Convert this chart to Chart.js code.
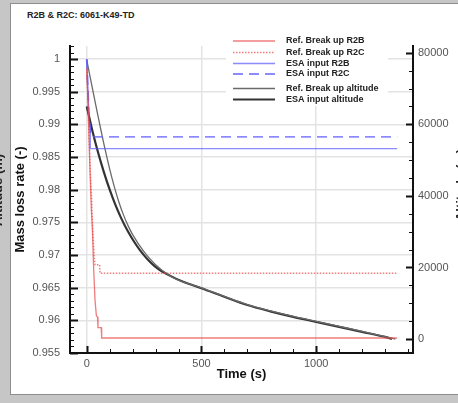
<!DOCTYPE html>
<html>
<head>
<meta charset="utf-8">
<script src="https://cdn.jsdelivr.net/npm/chart.js@4"></script>
<style>
  body { margin: 0; width: 458px; height: 403px; background: #c6c6c6; overflow: hidden; position: relative; }
  .panel { position: absolute; left: 10px; top: 3px; width: 448px; height: 390px; background: #fff;
           border-left: 1px solid #8d8d8d; border-top: 1px solid #8d8d8d; border-bottom: 1px solid #8d8d8d; }
  .title { position: absolute; left: 27px; top: 10px; font: bold 9px "Liberation Sans", Arial, sans-serif; color: #222; }
  canvas { position: absolute; left: 0; top: 0; }
</style>
</head>
<body>
<div class="panel"></div>
<div class="title">R2B &amp; R2C: 6061-K49-TD</div>
<canvas id="chart" width="458" height="403"></canvas>
<script>
// ---- data ----
const T_REF_R2B = [0, 5, 10, 15, 20, 25, 30, 36, 42, 47, 49, 63, 65, 1353];
const MLR_REF_R2B = [0.9985, 0.994, 0.988, 0.982, 0.977, 0.9735, 0.968, 0.9631, 0.9607, 0.9605, 0.9589, 0.9589, 0.9573, 0.9573];

const T_REF_R2C = [0, 5, 10, 15, 20, 24, 28, 32, 36, 56, 58, 1353];
const MLR_REF_R2C = [0.9985, 0.994, 0.988, 0.983, 0.9795, 0.976, 0.9725, 0.970, 0.9685, 0.9685, 0.9672, 0.9672];

const T_ESA_R2B = [0, 5, 10, 15, 15.5, 1353];
const MLR_ESA_R2B = [1.0, 0.9955, 0.991, 0.9895, 0.9863, 0.9863];

const T_ESA_R2C = [0, 5, 10, 18, 1353];
const MLR_ESA_R2C = [1.0, 0.9955, 0.991, 0.9881, 0.9881];

const T_REF_ALT = [0, 40, 80, 100, 120, 140, 160, 180, 200, 250, 300, 360, 420, 500, 600, 700, 800, 900, 1000, 1100, 1200, 1300, 1345];
const ALT_REF = [78000, 65200, 53000, 47500, 42600, 38300, 34700, 31700, 29200, 24350, 20750, 17750, 15950, 14300, 11900, 9650, 7900, 6350, 4950, 3550, 2150, 700, 0];

const T_ESA_ALT = [0, 25, 50, 75, 100, 125, 150, 181, 230, 297, 360, 420, 500, 600, 700, 800, 900, 1000, 1100, 1200, 1300, 1330];
const ALT_ESA = [65000, 58100, 52000, 46600, 41750, 37500, 33800, 29900, 25000, 20300, 17800, 16000, 14200, 11800, 9500, 7750, 6200, 4800, 3400, 2000, 600, 0];

const X_TICKS = [0, 500, 1000];
const LEFT_TICKS = [0.955, 0.96, 0.965, 0.97, 0.975, 0.98, 0.985, 0.99, 0.995, 1];
const RIGHT_TICKS = [0, 20000, 40000, 60000, 80000];

const FONT = '"Liberation Sans", Arial, sans-serif';

function pts(ts, vs) {
  return ts.map((t, i) => ({ x: t, y: vs[i] }));
}

const datasets = [
  { label: 'Ref. Break up R2B', data: pts(T_REF_R2B, MLR_REF_R2B), yAxisID: 'y',
    borderColor: 'rgba(232,70,70,0.7)', borderWidth: 1.3 },
  { label: 'Ref. Break up R2C', data: pts(T_REF_R2C, MLR_REF_R2C), yAxisID: 'y',
    borderColor: 'rgba(232,70,70,0.7)', borderWidth: 1.5, borderDash: [1.5, 1.5] },
  { label: 'ESA input R2B', data: pts(T_ESA_R2B, MLR_ESA_R2B), yAxisID: 'y',
    borderColor: 'rgba(90,90,255,0.7)', borderWidth: 1.3 },
  { label: 'ESA input R2C', data: pts(T_ESA_R2C, MLR_ESA_R2C), yAxisID: 'y',
    borderColor: 'rgba(90,90,255,0.7)', borderWidth: 1.8, borderDash: [10, 6] },
  { label: 'Ref. Break up altitude', data: pts(T_REF_ALT, ALT_REF), yAxisID: 'y2',
    borderColor: '#6a6a6a', borderWidth: 1.3, cubicInterpolationMode: 'monotone' },
  { label: 'ESA input altitude', data: pts(T_ESA_ALT, ALT_ESA), yAxisID: 'y2',
    borderColor: '#333', borderWidth: 2.2, cubicInterpolationMode: 'monotone' }
];

// inner minor/major ticks, Tecplot style
const innerTicks = {
  id: 'innerTicks',
  afterDraw(chart) {
    const { ctx, chartArea: a, scales: { x, y, y2 } } = chart;
    ctx.save();
    ctx.strokeStyle = '#111';
    for (let v = 0; v <= 1400; v += 100) {
      const px = Math.round(x.getPixelForValue(v)) + 0.5;
      const len = v % 500 === 0 ? 7 : 4;
      ctx.lineWidth = v % 500 === 0 ? 2 : 1;
      ctx.beginPath(); ctx.moveTo(px, a.bottom); ctx.lineTo(px, a.bottom - len); ctx.stroke();
    }
    for (let i = 955; i <= 1002; i++) {
      const py = Math.round(y.getPixelForValue(i / 1000)) + 0.5;
      const major = i % 5 === 0;
      ctx.lineWidth = major ? 2 : 1;
      ctx.beginPath(); ctx.moveTo(a.left, py); ctx.lineTo(a.left + (major ? 8 : 4), py); ctx.stroke();
    }
    for (let v = 0; v <= 80000; v += 5000) {
      const py = Math.round(y2.getPixelForValue(v)) + 0.5;
      const major = v % 20000 === 0;
      ctx.lineWidth = major ? 2 : 1;
      ctx.beginPath(); ctx.moveTo(a.right, py); ctx.lineTo(a.right - (major ? 7 : 4), py); ctx.stroke();
    }
    // altitude labels that stick out at both edges of the frame
    ctx.fillStyle = '#222';
    ctx.font = 'bold 13px ' + FONT;
    ctx.textAlign = 'center';
    ctx.textBaseline = 'middle';
    [[461, 185], [-2, 190]].forEach(([cx, cy]) => {
      ctx.save(); ctx.translate(cx, cy); ctx.rotate(-Math.PI / 2);
      ctx.fillText('Altitude (m)', 0, 0); ctx.restore();
    });
    ctx.restore();
  }
};

const boxLegend = {
  id: 'boxLegend',
  afterDatasetsDraw(chart) {
    const { ctx } = chart;
    const rows = [41, 52.5, 63.5, 74, 88.5, 99.5];
    ctx.save();
    ctx.fillStyle = '#fff';
    ctx.fillRect(226, 34, 162, 72);
    ctx.font = 'bold 9px ' + FONT;
    ctx.textBaseline = 'middle';
    chart.data.datasets.forEach((ds, i) => {
      const y = rows[i];
      ctx.strokeStyle = ds.borderColor;
      ctx.lineWidth = ds.borderWidth;
      ctx.setLineDash(ds.borderDash || []);
      ctx.beginPath(); ctx.moveTo(233, y); ctx.lineTo(275, y); ctx.stroke();
      ctx.setLineDash([]);
      ctx.fillStyle = '#222';
      ctx.fillText(ds.label, 286, y);
    });
    ctx.restore();
  }
};

new Chart(document.getElementById('chart'), {
  type: 'line',
  data: { datasets },
  options: {
    responsive: false,
    devicePixelRatio: 1,
    animation: false,
    layout: { padding: { top: 46, left: 0, right: 0, bottom: 0 } },
    elements: { point: { radius: 0 }, line: { tension: 0 } },
    plugins: { legend: { display: false }, tooltip: { enabled: false } },
    scales: {
      x: {
        type: 'linear', min: -73, max: 1422,
        afterBuildTicks: s => { s.ticks = X_TICKS.map(v => ({ value: v })); },
        afterFit: s => { s.height = 50; },
        grid: { color: '#e3e3e3', lineWidth: 1.5, drawTicks: false },
        border: { color: '#111', width: 2 },
        ticks: { padding: 4, color: '#555', font: { size: 11, family: FONT }, maxRotation: 0,
                 callback: v => String(v) },
        title: { display: true, text: 'Time (s)', color: '#111', font: { size: 13, weight: 'bold', family: FONT },
                 padding: { top: 0, bottom: 21 } }
      },
      y: {
        position: 'left', min: 0.955, max: 1.002,
        afterBuildTicks: s => { s.ticks = LEFT_TICKS.map(v => ({ value: v })); },
        afterFit: s => { s.width = 70; },
        grid: { color: '#e3e3e3', lineWidth: 1.5, drawTicks: false },
        border: { color: '#111', width: 2 },
        ticks: { padding: 10, color: '#555', font: { size: 11, family: FONT },
                 callback: v => String(+v.toFixed(3)) },
        title: { display: true, text: 'Mass loss rate (-)', color: '#111', font: { size: 13, weight: 'bold', family: FONT },
                 padding: { top: 13, bottom: 0 } }
      },
      y2: {
        position: 'right', min: -3900, max: 81900,
        afterBuildTicks: s => { s.ticks = RIGHT_TICKS.map(v => ({ value: v })); },
        afterFit: s => { s.width = 45; },
        grid: { display: false, drawTicks: false },
        border: { color: '#111', width: 2 },
        ticks: { padding: 5, color: '#555', font: { size: 11, family: FONT },
                 callback: v => String(v) }
      }
    }
  },
  plugins: [innerTicks, boxLegend]
});
</script>
</body>
</html>
